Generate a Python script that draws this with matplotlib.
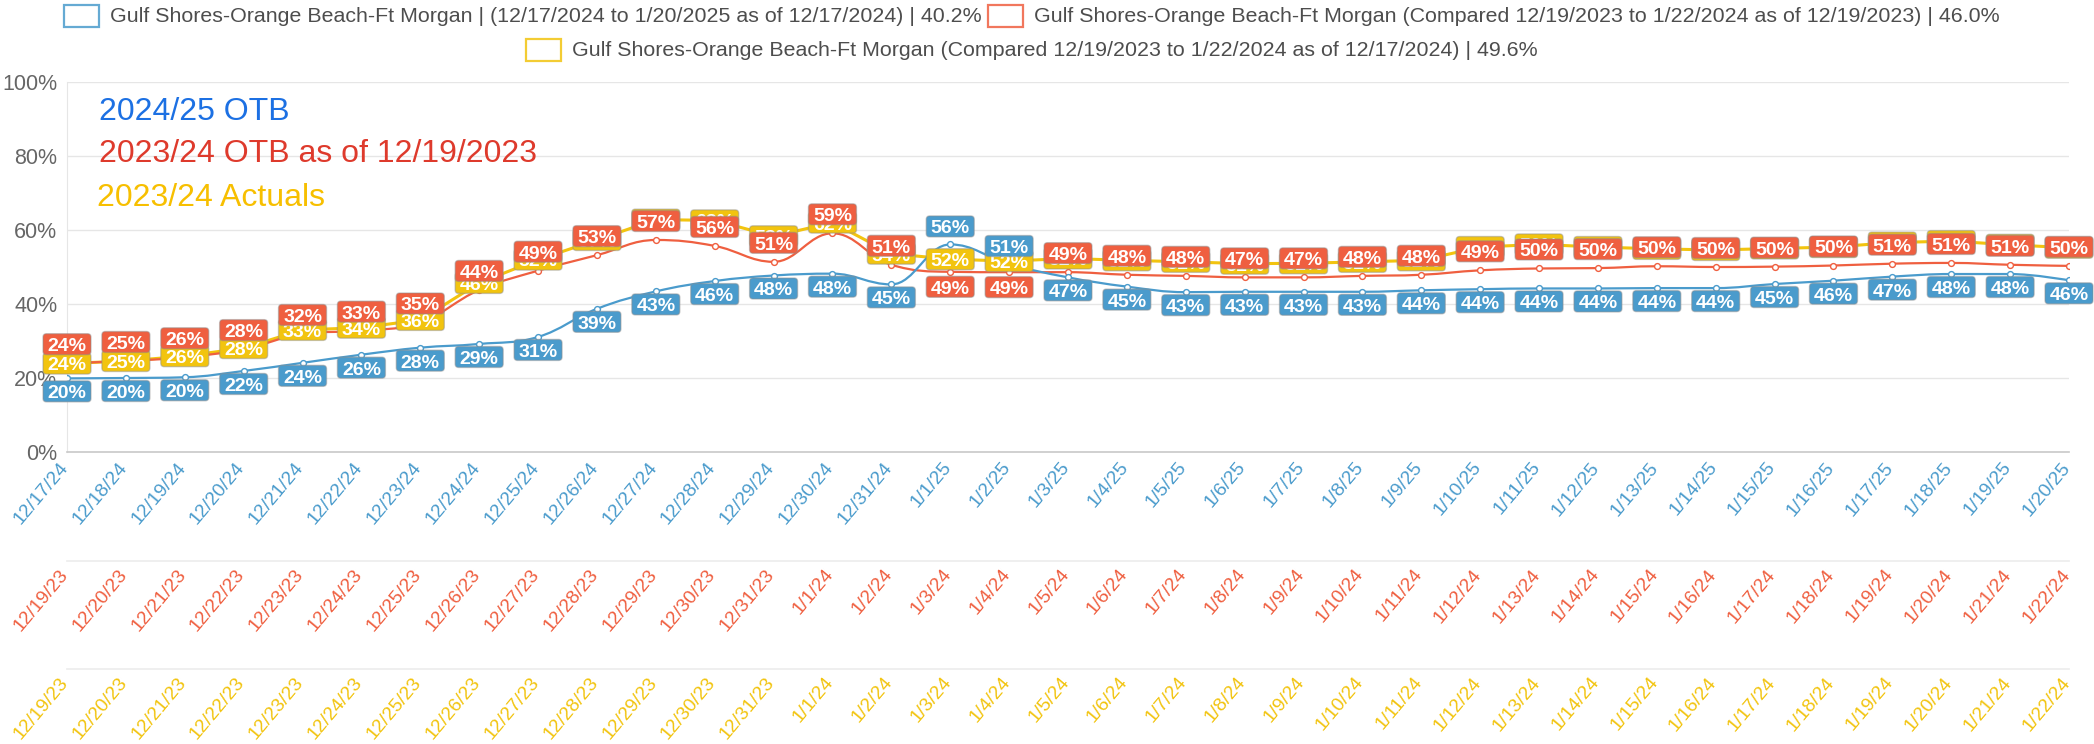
import matplotlib
matplotlib.use("Agg")
import matplotlib.pyplot as plt
import matplotlib.transforms as mtransforms
from matplotlib.patches import FancyBboxPatch, Rectangle
from matplotlib.path import Path
from matplotlib.patches import PathPatch
from matplotlib.lines import Line2D

plt.rcParams['font.family'] = ['Liberation Sans', 'DejaVu Sans']

# dates for each row of the x axis
dates_2425 = ['12/17/24', '12/18/24', '12/19/24', '12/20/24', '12/21/24', '12/22/24', '12/23/24',
              '12/24/24', '12/25/24', '12/26/24', '12/27/24', '12/28/24', '12/29/24', '12/30/24',
              '12/31/24', '1/1/25', '1/2/25', '1/3/25', '1/4/25', '1/5/25', '1/6/25', '1/7/25',
              '1/8/25', '1/9/25', '1/10/25', '1/11/25', '1/12/25', '1/13/25', '1/14/25', '1/15/25',
              '1/16/25', '1/17/25', '1/18/25', '1/19/25', '1/20/25']
dates_2324 = ['12/19/23', '12/20/23', '12/21/23', '12/22/23', '12/23/23', '12/24/23', '12/25/23',
              '12/26/23', '12/27/23', '12/28/23', '12/29/23', '12/30/23', '12/31/23', '1/1/24',
              '1/2/24', '1/3/24', '1/4/24', '1/5/24', '1/6/24', '1/7/24', '1/8/24', '1/9/24',
              '1/10/24', '1/11/24', '1/12/24', '1/13/24', '1/14/24', '1/15/24', '1/16/24', '1/17/24',
              '1/18/24', '1/19/24', '1/20/24', '1/21/24', '1/22/24']

# occupancy in %
otb_2425 = [19.9, 20.0, 20.2, 21.9, 24.1, 26.3, 28.2, 29.2, 31.1, 38.7, 43.4, 46.2, 47.7, 48.2,
            45.3, 56.1, 50.8, 47.2, 44.7, 43.2, 43.3, 43.3, 43.3, 43.7, 44.0, 44.2, 44.2, 44.3,
            44.3, 45.4, 46.3, 47.4, 48.1, 48.1, 46.4]
otb_2324 = [24.0, 24.6, 25.6, 27.8, 31.9, 32.8, 35.0, 43.8, 49.0, 53.2, 57.3, 55.7, 51.4, 59.1,
            50.6, 48.7, 48.6, 48.6, 47.9, 47.6, 47.2, 47.2, 47.6, 47.9, 49.1, 49.6, 49.7, 50.2,
            50.0, 50.1, 50.4, 50.9, 51.1, 50.6, 50.3]
actual_2324 = [23.9, 24.6, 25.9, 28.1, 33.0, 33.6, 35.7, 45.7, 52.0, 57.3, 62.8, 62.6, 58.3, 62.0,
               53.6, 52.1, 51.6, 52.3, 51.8, 51.4, 50.9, 51.0, 51.4, 51.8, 55.4, 56.1, 55.4, 54.9,
               54.6, 55.0, 55.4, 56.6, 57.0, 56.0, 55.2]

legend_labels = [
    'Gulf Shores-Orange Beach-Ft Morgan | (12/17/2024 to 1/20/2025 as of 12/17/2024) | 40.2%',
    'Gulf Shores-Orange Beach-Ft Morgan (Compared 12/19/2023 to 1/22/2024 as of 12/19/2023) | 46.0%',
    'Gulf Shores-Orange Beach-Ft Morgan (Compared 12/19/2023 to 1/22/2024 as of 12/17/2024) | 49.6%',
]

BLUE = '#4a9bcc'
RED = '#ef5f40'
YELLOW = '#f2c40f'

W, H = 2094, 744
fig = plt.figure(figsize=(W / 100, H / 100), dpi=100)
ax = fig.add_axes([67 / W, 1 - 452 / H, (2069 - 67) / W, (452 - 82) / H])

x = list(range(len(dates_2425)))
ax.set_xlim(0, len(x) - 1)
ax.set_ylim(0, 100)


def spline_path(xs, ys, smoothing=1.5):
    # same control points as a Highcharts spline
    n = len(xs)
    lc = [(xs[i], ys[i]) for i in range(n)]
    rc = [(xs[i], ys[i]) for i in range(n)]
    d = smoothing + 1
    for i in range(1, n - 1):
        px, py = xs[i], ys[i]
        lx, ly = xs[i - 1], ys[i - 1]
        nx, ny = xs[i + 1], ys[i + 1]
        lcx = (smoothing * px + lx) / d
        lcy = (smoothing * py + ly) / d
        rcx = (smoothing * px + nx) / d
        rcy = (smoothing * py + ny) / d
        if rcx != lcx:
            corr = ((rcy - lcy) * (rcx - px)) / (rcx - lcx) + py - rcy
            lcy += corr
            rcy += corr
        if lcy > ly and lcy > py:
            lcy = max(ly, py)
            rcy = 2 * py - lcy
        elif lcy < ly and lcy < py:
            lcy = min(ly, py)
            rcy = 2 * py - lcy
        if rcy > ny and rcy > py:
            rcy = max(ny, py)
            lcy = 2 * py - rcy
        elif rcy < ny and rcy < py:
            rcy = min(ny, py)
            lcy = 2 * py - rcy
        lc[i] = (lcx, lcy)
        rc[i] = (rcx, rcy)
    verts = [(xs[0], ys[0])]
    codes = [Path.MOVETO]
    for i in range(1, n):
        verts += [rc[i - 1], lc[i], (xs[i], ys[i])]
        codes += [Path.CURVE4] * 3
    return Path(verts, codes)


# grid
for v in range(20, 101, 20):
    ax.axhline(v, color='#e6e6e6', lw=1, zorder=0)
for s in ['top', 'right']:
    ax.spines[s].set_visible(False)
ax.spines['left'].set_color('#e6e6e6')
ax.spines['bottom'].set_color('#c8c8c8')
ax.spines['bottom'].set_linewidth(1.2)

ax.set_yticks(range(0, 101, 20))
ax.set_yticklabels([f'{v}%' for v in range(0, 101, 20)])
ax.tick_params(axis='y', length=0, pad=7, labelsize=15.5, labelcolor='#666666')
ax.set_xticks([])

# lines
ax.plot(x, actual_2324, color=YELLOW, lw=2.2, zorder=2, solid_joinstyle='round')
ax.add_patch(PathPatch(spline_path(x, otb_2324), fill=False, edgecolor=RED, lw=1.6, zorder=3))
ax.add_patch(PathPatch(spline_path(x, otb_2425), fill=False, edgecolor=BLUE, lw=1.6, zorder=4))
ax.plot(x, otb_2324, ls='none', marker='o', ms=4.2, mfc='white', mec=RED, mew=1, zorder=3.5)
ax.plot(x, otb_2425, ls='none', marker='o', ms=4.2, mfc='white', mec=BLUE, mew=1, zorder=4.5)

# data labels (sizes in inches, 100 px per inch)
BW, BH, CAP = 0.48, 0.21, 0.138


def label(xv, yv, color, dy, z):
    tr = fig.dpi_scale_trans + mtransforms.ScaledTranslation(xv, yv, ax.transData)
    box = FancyBboxPatch((-BW / 2, dy - BH / 2), BW, BH,
                         boxstyle='round,pad=0,rounding_size=0.035',
                         facecolor=color, edgecolor=(0.55, 0.55, 0.55, 0.45), lw=1,
                         transform=tr, zorder=z, clip_on=False)
    ax.add_artist(box)
    ax.text(0, dy - CAP / 2, f'{yv:.0f}%', transform=tr, ha='center', va='baseline',
            fontsize=14, fontweight='bold', color='white', zorder=z + 0.1, clip_on=False)


for i in x:
    label(i, actual_2324[i], YELLOW, 0, 5)
for i in x:
    up = otb_2324[i] >= otb_2425[i]
    label(i, otb_2324[i], RED, 0.19 if up else -0.15, 6)
for i in x:
    up = otb_2425[i] > otb_2324[i]
    label(i, otb_2425[i], BLUE, 0.18 if up else -0.13, 7)

# three rows of date labels
base = mtransforms.blended_transform_factory(ax.transData, ax.transAxes)
rows = [(dates_2425, BLUE, 12.5), (dates_2324, RED, 119.5), (dates_2324, YELLOW, 227.5)]
for labels, color, off in rows:
    tr = base + mtransforms.ScaledTranslation(-0.02, -off / 100, fig.dpi_scale_trans)
    for i, lab in enumerate(labels):
        ax.text(i, 0, lab, transform=tr, rotation=50, rotation_mode='anchor', ha='right',
                va='center', fontsize=13.8, color=color, clip_on=False)
for off in (109, 217):
    tr = ax.transAxes + mtransforms.ScaledTranslation(0, -off / 100, fig.dpi_scale_trans)
    ax.add_line(Line2D([0, 1], [0, 0], transform=tr, color='#ececec', lw=1.2, clip_on=False))

# series titles
fig.text(99 / W, 1 - 120 / H, '2024/25 OTB', color='#1c70e3', fontsize=23, va='baseline')
fig.text(99 / W, 1 - 162 / H, '2023/24 OTB as of 12/19/2023', color='#de3a2c', fontsize=23,
         va='baseline')
fig.text(97 / W, 1 - 206 / H, '2023/24 Actuals', color='#f7bf00', fontsize=23, va='baseline')

# legend
leg = [(64, 16, BLUE, legend_labels[0]), (988, 16, RED, legend_labels[1]),
       (526, 50, YELLOW, legend_labels[2])]
for lx, ly, color, text in leg:
    fig.add_artist(Rectangle((lx / W, 1 - (ly + 11) / H), 35 / W, 22 / H, transform=fig.transFigure,
                             facecolor='white', edgecolor=color, lw=1.6, alpha=0.85))
    fig.text((lx + 46) / W, 1 - ly / H, text, fontsize=15.4, color='#4d4d4d', va='center')

fig.savefig('out.png', dpi=100)
